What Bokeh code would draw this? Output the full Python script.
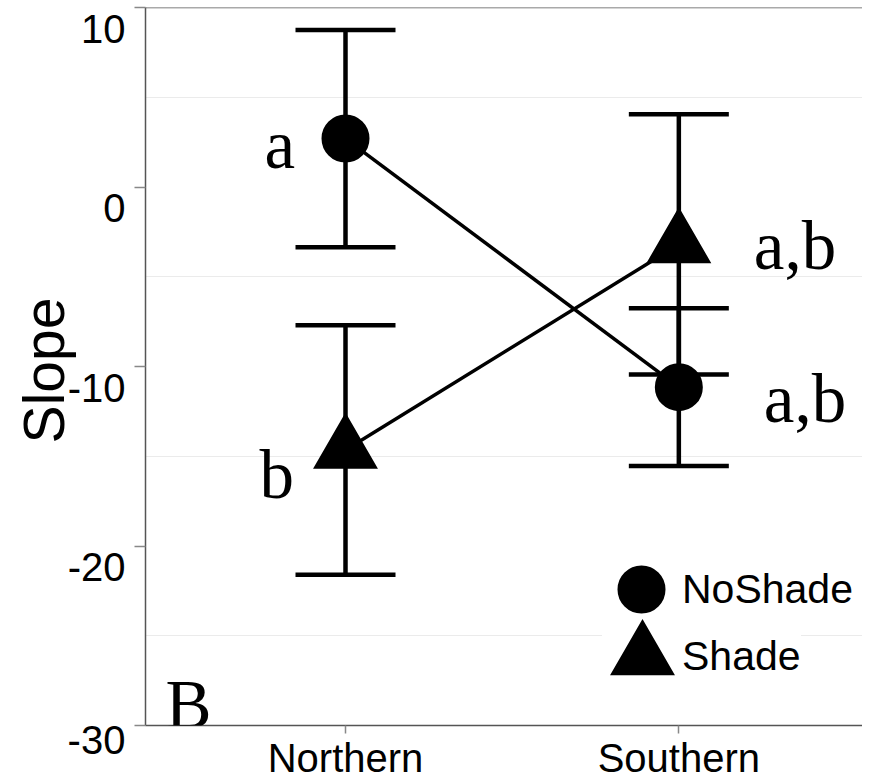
import math
from bokeh.plotting import figure
from bokeh.layouts import row
from bokeh.models import (ColumnDataSource, Whisker, TeeHead, Range1d, FixedTicker,
                          Span, Legend, LegendItem, Label, LinearAxis)
from bokeh.embed import file_html
from bokeh.resources import INLINE
from bokeh.core.properties import value

# ---- data ----
categories = ["Northern", "Southern"]
treatments = ["NoShade", "Shade"]
noshade_mean = [2.7, -11.15]
noshade_lower = [-3.35, -15.55]
noshade_upper = [8.75, -6.75]
shade_mean = [-14.65, -3.2]
shade_lower = [-21.6, -10.45]
shade_upper = [-7.7, 4.05]
noshade_letters = ["a", "a,b"]
shade_letters = ["b", "a,b"]
y_ticks = [-30, -20, -10, 0, 10]
y_tick_labels = ["-30", "-20", "-10", "0", "10"]
minor_grid = [-25, -15, -5, 5]
y_title = "Slope"
panel_tag = "B"

x_pos = [i + 1 for i in range(len(categories))]

AXIS_COL = "#555555"
TICK_COL = "#888888"
SANS = "Liberation Sans"
SERIF = "Liberation Serif"

# ---- layout constants (pixels) ----
W, H = 862, 782
LEFT_W = 126          # strip holding the y tick labels and the y title
TOP, BOTTOM = 7, 56   # frame margins
y_lo, y_hi = y_ticks[0], y_ticks[-1]
y_range = Range1d(y_lo, y_hi)

# ---------------- main plot ----------------
p = figure(width=W - LEFT_W, height=H, output_backend="svg", toolbar_location=None,
           x_range=Range1d(0.4, 2.551), y_range=y_range,
           min_border_left=19, min_border_right=0, min_border_top=TOP,
           min_border_bottom=BOTTOM)
p.background_fill_color = "white"
p.border_fill_color = "white"
p.outline_line_color = None

p.xgrid.visible = False
p.ygrid.ticker = FixedTicker(ticks=minor_grid)
p.ygrid.grid_line_color = "#ebebeb"
p.ygrid.grid_line_width = 1

ya = p.yaxis[0]
ya.ticker = FixedTicker(ticks=y_ticks)
ya.major_label_overrides = {t: "" for t in y_ticks}
ya.axis_line_color = AXIS_COL
ya.axis_line_width = 1.5
ya.major_tick_line_color = TICK_COL
ya.major_tick_line_width = 1.5
ya.major_tick_out = 11
ya.major_tick_in = 0
ya.minor_tick_out = 0
ya.minor_tick_in = 0
ya.major_label_standoff = 0

xa = p.xaxis[0]
xa.ticker = FixedTicker(ticks=x_pos)
xa.major_label_overrides = {xp: c for xp, c in zip(x_pos, categories)}
xa.axis_line_color = AXIS_COL
xa.axis_line_width = 1.5
xa.major_tick_line_color = TICK_COL
xa.major_tick_line_width = 1.5
xa.major_tick_out = 8
xa.major_tick_in = 0
xa.minor_tick_out = 0
xa.minor_tick_in = 0
xa.major_label_text_font = SANS
xa.major_label_text_font_size = "40px"
xa.major_label_text_color = "black"
xa.major_label_standoff = 2

# top border
p.add_layout(Span(location=y_hi, dimension="width", line_color=AXIS_COL,
                  line_width=1.5))

# error bars
for lo, up in [(noshade_lower, noshade_upper), (shade_lower, shade_upper)]:
    src = ColumnDataSource(dict(x=x_pos, lower=lo, upper=up))
    w = Whisker(base="x", upper="upper", lower="lower", source=src,
                dimension="height", line_color="black", line_width=4.5,
                upper_head=TeeHead(size=100, line_width=4.5, line_color="black"),
                lower_head=TeeHead(size=100, line_width=4.5, line_color="black"),
                level="underlay")
    p.add_layout(w)

# connecting lines
p.line(x_pos, noshade_mean, line_color="black", line_width=3.5)
p.line(x_pos, shade_mean, line_color="black", line_width=3.5)

# points (thick outlines so the legend keys are drawn just as large)
r_ns = p.scatter(x_pos, noshade_mean, marker="circle", size=32,
                 fill_color="black", line_color="black", line_width=16)
r_s = p.scatter(x_pos, shade_mean, marker="triangle", size=32,
                fill_color="black", line_color="black", line_width=19,
                line_join="miter")

# significance letters
let_src_ns = ColumnDataSource(dict(x=x_pos, y=noshade_mean, t=noshade_letters,
                                   xo=[-81, 85], yo=[6, 12]))
let_src_s = ColumnDataSource(dict(x=x_pos, y=shade_mean, t=shade_letters,
                                  xo=[-86, 75], yo=[25, 2]))
for s in (let_src_ns, let_src_s):
    p.text(x="x", y="y", text="t", x_offset="xo", y_offset="yo", source=s,
           text_font=value(SERIF), text_font_size="69px", text_color="black",
           text_align="left", text_baseline="alphabetic")

# panel tag
p.add_layout(Label(x=0.46, y=-28.88, text=panel_tag, text_font=SERIF,
                   text_font_size="69px", text_color="black",
                   text_baseline="alphabetic", text_align="left"))

# legend (one Legend per key to control the spacing)
common = dict(glyph_width=80, glyph_height=80, padding=0, margin=0, spacing=0,
              border_line_color=None, label_text_font=SANS,
              label_text_font_size="41px", label_text_color="black")
leg1 = Legend(items=[LegendItem(label=treatments[0], renderers=[r_ns])],
              location=(456, 96), label_standoff=1, background_fill_alpha=0,
              **common)
leg2 = Legend(items=[LegendItem(label=treatments[1], renderers=[r_s])],
              location=(457, 29), label_standoff=0,
              background_fill_color="white", background_fill_alpha=1, **common)
p.add_layout(leg2)
p.add_layout(leg1)

# ---------------- left strip: y tick labels + title ----------------
# tick labels hang just below their ticks (as in the original figure)
pl = figure(width=LEFT_W, height=H, output_backend="svg", toolbar_location=None,
            x_range=Range1d(0, LEFT_W), y_range=y_range,
            x_axis_type=None, y_axis_type=None,
            min_border_left=0, min_border_right=0, min_border_top=TOP,
            min_border_bottom=BOTTOM)
pl.outline_line_color = None
pl.background_fill_color = "white"
pl.border_fill_color = "white"
pl.grid.visible = False

LABEL_RIGHT = LEFT_W - 1
pl.text(x=[LABEL_RIGHT] * (len(y_ticks) - 1), y=y_ticks[1:], text=y_tick_labels[1:],
        text_font=value(SANS), text_font_size="40px", text_color="black",
        text_align="right", text_baseline="top", y_offset=7)
pl.text(x=[43], y=[(y_lo + y_hi) / 2], text=[y_title], angle=math.pi / 2,
        y_offset=4,
        text_font=value(SANS), text_font_size="57px", text_color="black",
        text_align="center", text_baseline="middle")

# the lowest tick label sits below the frame, so it is set on the strip's
# bottom axis (axis labels are not clipped to the frame)
low_x = 96
low_axis = LinearAxis(ticker=FixedTicker(ticks=[low_x]),
                      major_label_overrides={low_x: y_tick_labels[0]},
                      axis_line_color=None, major_tick_line_color=None,
                      minor_tick_line_color=None, major_tick_out=0,
                      major_tick_in=0, major_label_standoff=0,
                      major_label_text_font=SANS, major_label_text_font_size="40px",
                      major_label_text_color="black")
pl.add_layout(low_axis, "below")

layout = row(pl, p, spacing=0)
open("out.html", "w").write(file_html(layout, INLINE))
